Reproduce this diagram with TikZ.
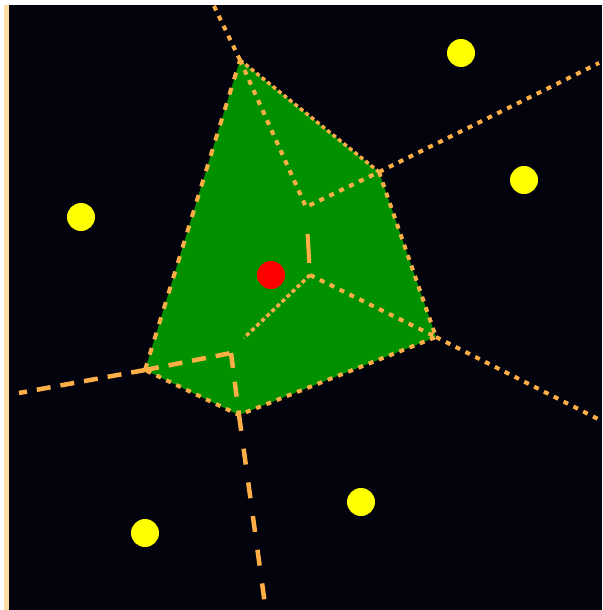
\documentclass[tikz,border=0pt]{standalone}
\definecolor{voronoibg}{HTML}{03030D}
\definecolor{voronoiframe}{HTML}{FFDCA0}
\definecolor{cellgreen}{HTML}{009000}
\definecolor{ridgeorange}{HTML}{FFAF46}
\definecolor{siteyellow}{HTML}{FFFF00}
\definecolor{sitered}{HTML}{FF0000}

\begin{document}
\begin{tikzpicture}[x=1pt, y=-1pt,
      site/.style={circle, fill=siteyellow, inner sep=0pt, minimum size=28pt},
      ridge/.style={draw=ridgeorange, line width=4pt, dash pattern=on 5pt off 6pt},
      fineridge/.style={draw=ridgeorange, line width=3.5pt, dash pattern=on 4pt off 3pt},
      dashridge/.style={draw=ridgeorange, line width=4.5pt, dash pattern=on 14pt off 10pt},
      longridge/.style={draw=ridgeorange, line width=4.5pt, dash pattern=on 16pt off 18pt}
    ]
      \useasboundingbox (0,0) rectangle (602,610);
      \fill[white] (0,0) rectangle (602,610);
      \fill[voronoiframe] (4,5) rectangle (9,610);
      \fill[voronoibg] (9,5) rectangle (602,610);
      \clip (9,5) rectangle (602,610);

      \coordinate (top) at (240,60);
      \coordinate (upright) at (379,172);
      \coordinate (right) at (436,337);
      \coordinate (bottom) at (239,415);
      \coordinate (left) at (145,370);
      \coordinate (inner) at (306,207);
      \coordinate (hub) at (310,275);
      \coordinate (stub) at (244,338);
      \coordinate (corner) at (231,353);
      \coordinate (exitN) at (213,4);
      \coordinate (exitNE) at (599,63);
      \coordinate (exitSE) at (604,422);
      \coordinate (exitS) at (266,612);
      \coordinate (exitW) at (19,393);

      \fill[cellgreen] (top) -- (upright) -- (right) -- (bottom) -- (left) -- cycle;

      \draw[fineridge] (top) -- (upright);
      \draw[ridge] (upright) -- (right) -- (bottom) -- (left);
      \draw[ridge, dash pattern=on 7pt off 9pt] (left) -- (top);
      \draw[ridge] (top) -- (inner) -- (upright);
      \draw[ridge, dash pattern=on 0pt off 27pt on 29pt off 20pt] (inner) -- (hub);
      \draw[fineridge] (hub) -- (stub);
      \draw[ridge] (hub) -- (right);
      \draw[dashridge] (left) -- (corner);
      \draw[ridge, line width=4.5pt, dash pattern=on 15pt off 14pt] (corner) -- (bottom);

      \draw[ridge] (top) -- (exitN);
      \draw[ridge] (upright) -- (exitNE);
      \draw[ridge] (right) -- (exitSE);
      \draw[dashridge] (left) -- (exitW);
      \draw[longridge] (bottom) -- (exitS);

      \node[site] (sitewest) at (81,217) {};
      \node[site] (sitenorth) at (461,53) {};
      \node[site] (siteeast) at (524,180) {};
      \node[site] (sitesouthwest) at (145,533) {};
      \node[site] (sitesouth) at (361,502) {};
      \node[site, fill=sitered] (sitecell) at (271,275) {};
\end{tikzpicture}
\end{document}
